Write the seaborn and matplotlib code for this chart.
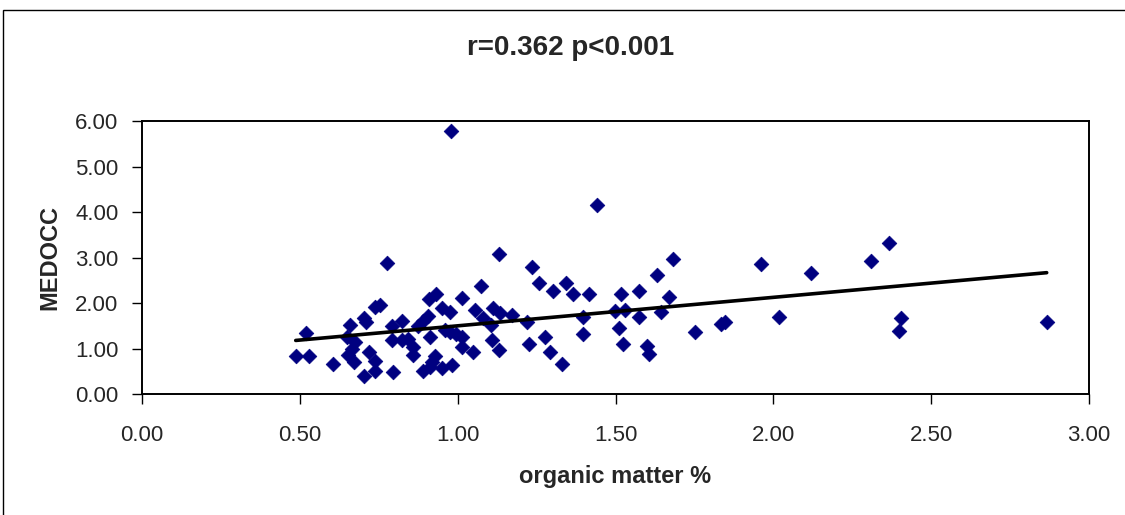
import numpy as np
import pandas as pd
import matplotlib
matplotlib.use("Agg")
import matplotlib.pyplot as plt
from matplotlib.patches import Rectangle
import seaborn as sns

# organic matter % (x) and MEDOCC (y)
organic_matter = [
    0.487, 0.530, 0.518, 0.606, 0.659, 0.650, 0.675, 0.665, 0.652, 0.672,
    0.702, 0.709, 0.702, 0.720, 0.739, 0.739, 0.738, 0.754, 0.776, 0.791,
    0.791, 0.796, 0.823, 0.823, 0.844, 0.860, 0.860, 0.875, 0.891, 0.907,
    0.912, 0.909, 0.931, 0.891, 0.912, 0.928, 0.918, 0.949, 0.981, 0.949,
    0.976, 0.960, 0.976, 0.995, 1.013, 1.013, 1.013, 0.979, 1.050, 1.055,
    1.075, 1.081, 1.105, 1.108, 1.113, 1.132, 1.132, 1.134, 1.171, 1.221,
    1.227, 1.234, 1.259, 1.276, 1.292, 1.303, 1.329, 1.342, 1.366, 1.398,
    1.398, 1.417, 1.440, 1.498, 1.512, 1.518, 1.525, 1.530, 1.575, 1.575,
    1.599, 1.607, 1.631, 1.644, 1.670, 1.683, 1.752, 1.834, 1.847, 1.960,
    2.018, 2.119, 2.308, 2.365, 2.404, 2.398, 2.866,
]
medocc = [
    0.83, 0.83, 1.34, 0.66, 1.53, 1.25, 1.15, 1.00, 0.86, 0.70,
    1.68, 1.58, 0.40, 0.92, 0.73, 0.52, 1.91, 1.97, 2.88, 1.51,
    1.19, 0.48, 1.62, 1.19, 1.22, 1.03, 0.86, 1.50, 1.62, 1.72,
    1.26, 2.09, 2.20, 0.52, 0.60, 0.83, 0.70, 0.57, 0.65, 1.89,
    1.80, 1.41, 1.37, 1.32, 1.26, 1.03, 2.11, 5.78, 0.92, 1.85,
    2.37, 1.67, 1.52, 1.19, 1.89, 3.07, 0.97, 1.78, 1.73, 1.58,
    1.10, 2.80, 2.45, 1.26, 0.92, 2.27, 0.66, 2.45, 2.20, 1.70,
    1.32, 2.20, 4.16, 1.83, 1.45, 2.20, 1.10, 1.85, 2.27, 1.70,
    1.07, 0.88, 2.63, 1.80, 2.14, 2.98, 1.36, 1.54, 1.58, 2.85,
    1.70, 2.67, 2.93, 3.33, 1.67, 1.39, 1.58,
]
x_ticks = [0.0, 0.5, 1.0, 1.5, 2.0, 2.5, 3.0]
y_ticks = [0.0, 1.0, 2.0, 3.0, 4.0, 5.0, 6.0]
title = "r=0.362 p<0.001"
x_label = "organic matter %"
y_label = "MEDOCC"

df = pd.DataFrame({"om": organic_matter, "medocc": medocc})

sns.set_theme(style="white")
plt.rcParams["font.family"] = ["Liberation Sans", "DejaVu Sans"]

fig = plt.figure(figsize=(11.25, 5.15), dpi=100)
ax = fig.add_axes([142 / 1125, 1 - 394.3 / 515, (1089 - 142) / 1125, (394.3 - 121) / 515])

sns.regplot(
    data=df, x="om", y="medocc", ax=ax, ci=None, marker="D",
    scatter_kws=dict(s=56, color="#000080", edgecolor="#000080", linewidths=0.5, alpha=1),
    line_kws=dict(color="black", lw=2.6),
)

ax.set_xlim(0, 3)
ax.set_ylim(0, 6)
ax.set_xticks(x_ticks)
ax.set_yticks(y_ticks)
ax.set_xticklabels([f"{v:.2f}" for v in x_ticks], fontsize=16)
ax.set_yticklabels([f"{v:.2f}" for v in y_ticks], fontsize=16)
ax.tick_params(axis="x", direction="out", length=7, width=1, color="black", pad=15, bottom=True)
ax.tick_params(axis="y", direction="out", length=7, width=1, color="black", pad=10, left=True)
for sp in ax.spines.values():
    sp.set_visible(True)
    sp.set_color("black")
    sp.set_linewidth(1.4)

ax.set_xlabel(x_label, fontsize=17, fontweight="bold", labelpad=14)
ax.set_ylabel(y_label, fontsize=17, fontweight="bold", labelpad=10)
fig.text(571 / 1125, 1 - 48 / 515, title, ha="center", va="center",
         fontsize=20, fontweight="bold")

fig.add_artist(Rectangle((3 / 1125, -0.02), 1.1, 1 - 10 / 515 + 0.02,
                         transform=fig.transFigure, fill=False,
                         edgecolor="black", lw=1.0, clip_on=False))

fig.savefig("out.png", dpi=100)
